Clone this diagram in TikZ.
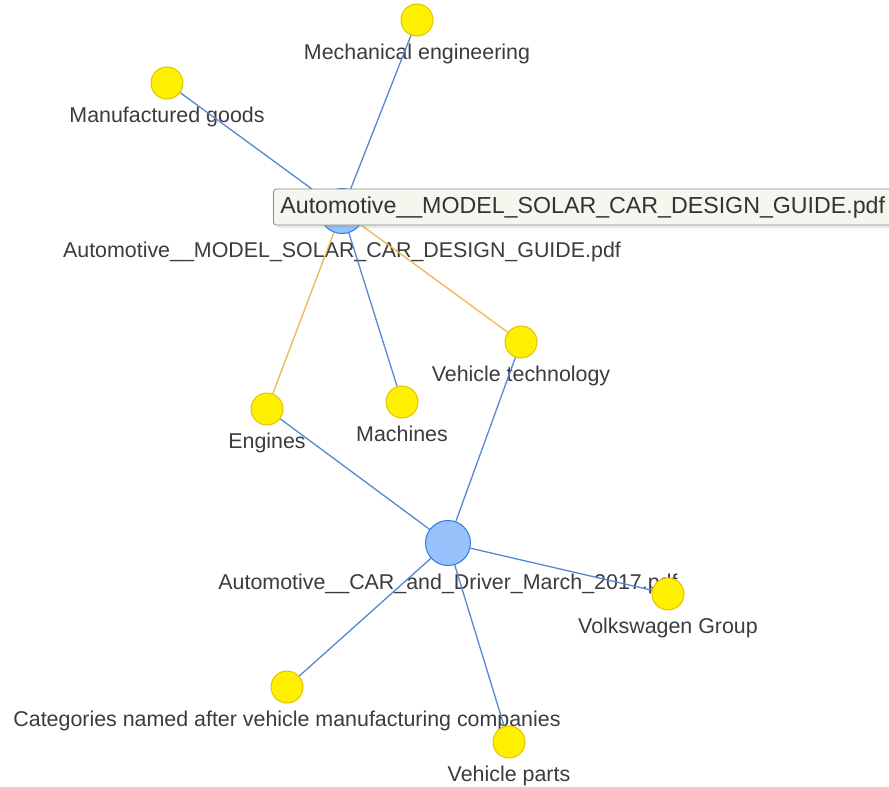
\documentclass[tikz,border=0pt]{standalone}
\usepackage{fontspec}
\setmainfont{Liberation Sans}
\usetikzlibrary{shadows}
\definecolor{visblue}{RGB}{151,194,252}
\definecolor{visblueborder}{RGB}{43,124,233}
\definecolor{visyellow}{RGB}{255,240,0}
\definecolor{visyellowborder}{RGB}{225,195,0}
\definecolor{edgeblue}{RGB}{86,136,206}
\definecolor{edgeorange}{RGB}{240,182,84}
\definecolor{labelgray}{RGB}{60,60,60}
\definecolor{tipfill}{RGB}{246,245,238}
\definecolor{tipborder}{RGB}{140,140,130}
\pgfdeclarelayer{paper}
\pgfdeclarelayer{labels}
\pgfdeclarelayer{edges}
\pgfsetlayers{paper,labels,edges,main}
\tikzset{
  topic/.style={
    circle,
    draw=visyellowborder,
    fill=visyellow,
    line width=1pt,
    minimum size=32pt,
    inner sep=0pt
  },
  doc/.style={
    circle,
    draw=visblueborder,
    fill=visblue,
    line width=1pt,
    minimum size=45pt,
    inner sep=0pt
  },
  lbl/.style={
    anchor=base,
    inner sep=0pt,
    text=labelgray,
    font=\fontsize{21.4}{24}\selectfont
  },
  tip/.style={
    anchor=west,
    draw=tipborder,
    fill=tipfill,
    rounded corners=3pt,
    line width=0.8pt,
    minimum height=36pt,
    inner xsep=7pt,
    text=black!80,
    font=\fontsize{23.2}{26}\selectfont,
    drop shadow={opacity=0.18,shadow xshift=3pt,shadow yshift=-3pt}
  },
  bluearr/.style={line width=1.3pt,edgeblue},
  orangearr/.style={line width=1.3pt,edgeorange}
}

\begin{document}
\begin{tikzpicture}[x=1pt,y=-1pt]
  \begin{pgfonlayer}{paper}
    \fill[white] (0,0) rectangle (889,787);
  \end{pgfonlayer}
  \useasboundingbox (0,0) rectangle (889,787);

  % nodes
  \node[topic] (mech) at (417,20) {};
  \node[topic] (goods) at (167,83) {};
  \node[doc] (solar) at (342,211) {};
  \node[topic] (vtech) at (521,342) {};
  \node[topic] (machines) at (402,402) {};
  \node[topic] (engines) at (267,409) {};
  \node[doc] (driver) at (448,543) {};
  \node[topic] (vw) at (668,594) {};
  \node[topic] (makers) at (287,687) {};
  \node[topic] (parts) at (509,742) {};

  % labels
  \begin{pgfonlayer}{labels}
    \node[lbl] (mechlbl) at ([yshift=-39pt]mech.center) {Mechanical engineering};
    \node[lbl] (goodslbl) at ([yshift=-39pt]goods.center) {Manufactured goods};
    \node[lbl] (solarlbl) at ([yshift=-46pt]solar.center) {Automotive\_\_MODEL\_SOLAR\_CAR\_DESIGN\_GUIDE.pdf};
    \node[lbl] (vtechlbl) at ([yshift=-39pt]vtech.center) {Vehicle technology};
    \node[lbl] (machineslbl) at ([yshift=-39pt]machines.center) {Machines};
    \node[lbl] (engineslbl) at ([yshift=-39pt]engines.center) {Engines};
    \node[lbl] (driverlbl) at ([yshift=-46pt]driver.center) {Automotive\_\_CAR\_and\_Driver\_March\_2017.pdf};
    \node[lbl] (vwlbl) at ([yshift=-39pt]vw.center) {Volkswagen Group};
    \node[lbl] (makerslbl) at ([yshift=-39pt]makers.center) {Categories named after vehicle manufacturing companies};
    \node[lbl] (partslbl) at ([yshift=-39pt]parts.center) {Vehicle parts};
  \end{pgfonlayer}

  % edges
  \begin{pgfonlayer}{edges}
    \draw[bluearr] (solar) -- (mech);
    \draw[bluearr] (solar) -- (goods);
    \draw[bluearr] (solar) -- (machines);
    \draw[orangearr] (solar) -- (engines);
    \draw[orangearr] (solar) -- (vtech);
    \draw[bluearr] (driver) -- (engines);
    \draw[bluearr] (driver) -- (vtech);
    \draw[bluearr] (driver) -- (vw);
    \draw[bluearr] (driver) -- (makers);
    \draw[bluearr] (driver) -- (parts);
  \end{pgfonlayer}

  % hover tooltip
  \node[tip] (tooltip) at (273,207) {Automotive\_\_MODEL\_SOLAR\_CAR\_DESIGN\_GUIDE.pdf};
\end{tikzpicture}
\end{document}
